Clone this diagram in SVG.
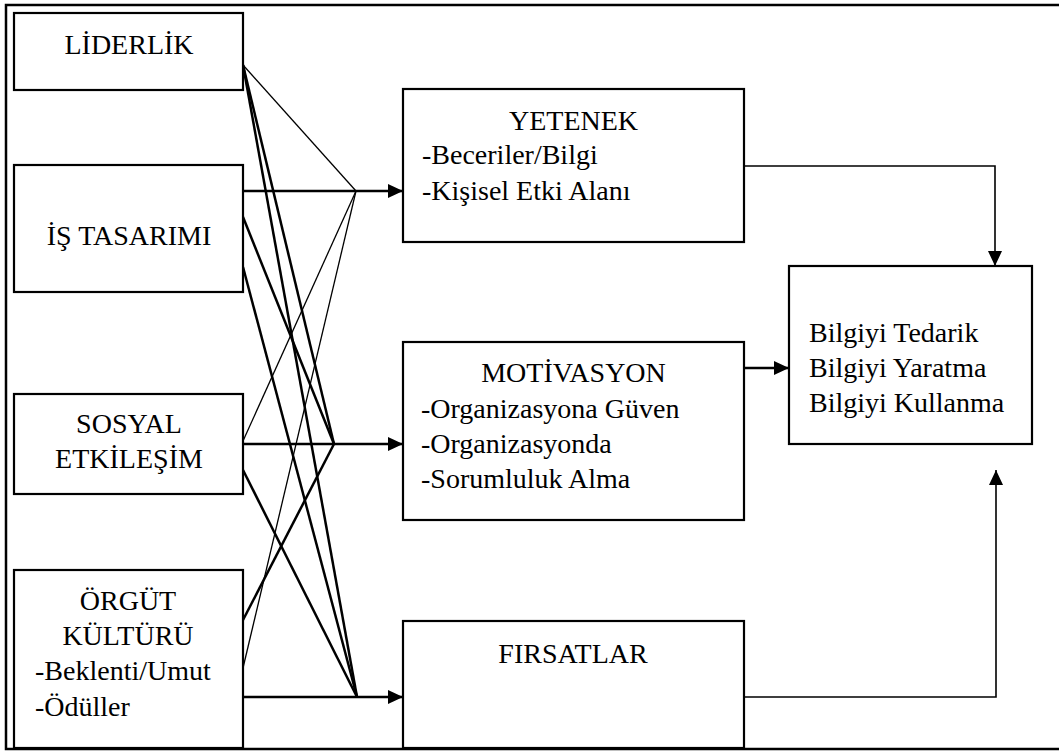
<svg xmlns="http://www.w3.org/2000/svg" width="1059" height="751" viewBox="0 0 1059 751">
<defs>
<marker id="ah" markerUnits="userSpaceOnUse" markerWidth="16" markerHeight="14" refX="15" refY="7" orient="auto">
<path d="M0,0 L15,7 L0,14 z" fill="#000"/>
</marker>
</defs>
<rect width="1059" height="751" fill="#fff"/>
<path d="M1059,5 H6 V749 H1059" fill="none" stroke="#000" stroke-width="2.5"/>

<g id="connectors" fill="none" stroke="#000">
<g stroke-width="1.3">
<path d="M243,65 L356,191"/>
<path d="M243,441 L356,191"/>
<path d="M243,668 L356,191"/>
</g>
<g stroke-width="2.5">
<path d="M243,65 L334,444"/>
<path d="M243,65 L357,697"/>
<path d="M243,217 L334,444"/>
<path d="M243,267 L357,697"/>
<path d="M243,470 L357,697"/>
<path d="M243,620 L334,444"/>
<path d="M243,191 H403" marker-end="url(#ah)"/>
<path d="M243,444 H403" marker-end="url(#ah)"/>
<path d="M243,697 H403" marker-end="url(#ah)"/>
<path d="M744,368 H789" marker-end="url(#ah)"/>
</g>
<g stroke-width="1.6">
<path d="M744,166 H995 V266" marker-end="url(#ah)"/>
<path d="M744,697 H996 V470" marker-end="url(#ah)"/>
</g>
</g>

<g fill="#fff" stroke="#000" stroke-width="2.2">
<rect id="box-liderlik" x="14" y="13" width="229" height="77"/>
<rect id="box-is" x="14" y="165" width="229" height="127"/>
<rect id="box-sosyal" x="14" y="394" width="229" height="100"/>
<rect id="box-orgut" x="14" y="570" width="229" height="178"/>
<rect id="box-yetenek" x="403" y="89" width="341" height="153"/>
<rect id="box-motivasyon" x="403" y="342" width="341" height="178"/>
<rect id="box-firsatlar" x="403" y="621" width="341" height="127"/>
<rect id="box-bilgi" x="789" y="266" width="243" height="178"/>
</g>

<g font-family="Liberation Serif" font-size="28" fill="#000">
<g id="liderlik" text-anchor="middle">
<text x="129" y="54">LİDERLİK</text>
</g>
<g id="is-tasarimi" text-anchor="middle">
<text x="129" y="245">İŞ TASARIMI</text>
</g>
<g id="sosyal-etkilesim" text-anchor="middle">
<text x="129" y="433">SOSYAL</text>
<text x="129" y="468">ETKİLEŞİM</text>
</g>
<g id="orgut-kulturu">
<text x="128" y="610" text-anchor="middle">ÖRGÜT</text>
<text x="128" y="645" text-anchor="middle">KÜLTÜRÜ</text>
<text x="35" y="680">-Beklenti/Umut</text>
<text x="35" y="716">-Ödüller</text>
</g>
<g id="yetenek">
<text x="573.5" y="130" text-anchor="middle">YETENEK</text>
<text x="422" y="164">-Beceriler/Bilgi</text>
<text x="422" y="200">-Kişisel Etki Alanı</text>
</g>
<g id="motivasyon">
<text x="573.5" y="382" text-anchor="middle">MOTİVASYON</text>
<text x="421" y="418">-Organizasyona Güven</text>
<text x="421" y="453">-Organizasyonda</text>
<text x="421" y="488">-Sorumluluk Alma</text>
</g>
<g id="firsatlar">
<text x="573" y="663" text-anchor="middle">FIRSATLAR</text>
</g>
<g id="bilgi">
<text x="809" y="342">Bilgiyi Tedarik</text>
<text x="809" y="377">Bilgiyi Yaratma</text>
<text x="809" y="412">Bilgiyi Kullanma</text>
</g>
</g>
</svg>
